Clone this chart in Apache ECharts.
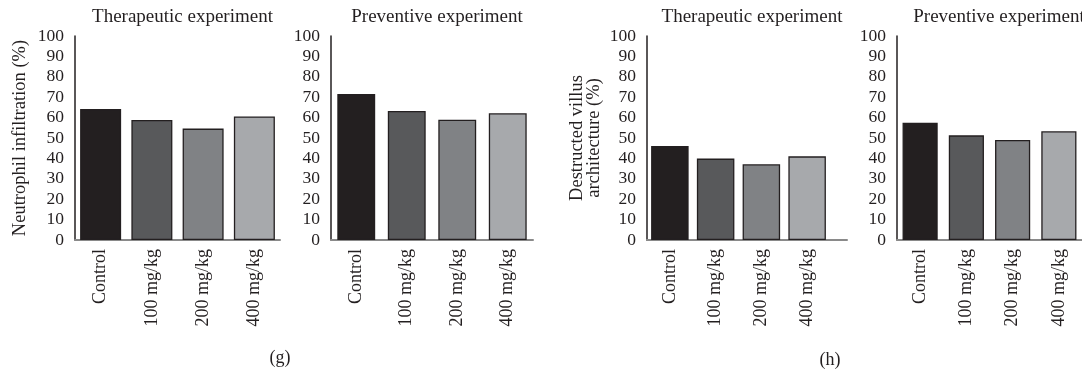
<!DOCTYPE html>
<html>
<head>
<meta charset="utf-8">
<script src="https://cdn.jsdelivr.net/npm/echarts@6/dist/echarts.min.js"></script>
<style>
  html, body { margin: 0; padding: 0; background: #fff; }
  #chart { width: 1082px; height: 372px; }
</style>
</head>
<body>
<div id="chart"></div>
<script>
// Groups on the category axis
const categories = ['Control', '100 mg/kg', '200 mg/kg', '400 mg/kg'];
const yTicks = [0, 10, 20, 30, 40, 50, 60, 70, 80, 90, 100];

// Neutrophil infiltration (%)
const therapeuticNeutrophil = [64.2, 58.8, 54.6, 60.6];
const preventiveNeutrophil = [71.6, 63.2, 59.0, 62.1];

// Destructed villus architecture (%)
const therapeuticVillus = [46.1, 39.9, 37.1, 41.0];
const preventiveVillus = [57.5, 51.3, 49.0, 53.3];

const panelTitles = ['Therapeutic experiment', 'Preventive experiment', 'Therapeutic experiment', 'Preventive experiment'];
const yNames = ['Neutrophil infiltration (%)', '', 'Destructed villus\narchitecture (%)', ''];
const panelLetters = ['(g)', '(h)'];

const barColors = ['#231f20', '#58595b', '#808285', '#a7a9ac'];
const ink = '#231f20';
const font = 'Liberation Serif';

// plot areas: left, width, gap between bars
const panels = [
  { left: 75,  width: 205, gap: '20%', data: therapeuticNeutrophil },
  { left: 331, width: 202, gap: '25%', data: preventiveNeutrophil },
  { left: 647, width: 183, gap: '18%', data: therapeuticVillus, lineWidth: 200 },
  { left: 897, width: 194, gap: '24%', data: preventiveVillus }
];
const plotTop = 36, plotHeight = 204;

const grids = [], xAxes = [], yAxes = [], series = [], titles = [];

panels.forEach((p, i) => {
  grids.push({ left: p.left, top: plotTop, width: p.width, height: plotHeight });
  xAxes.push({
    type: 'category', gridIndex: i, data: categories,
    axisLine: { lineStyle: { color: '#8a8a8a', width: 2 } },
    axisTick: { show: false },
    axisLabel: { rotate: 90, margin: 9, color: ink, fontFamily: font, fontSize: 18 }
  });
  yAxes.push({
    type: 'value', gridIndex: i, min: 0, max: 100, interval: 10,
    name: yNames[i], nameLocation: 'middle', nameGap: i === 2 ? 44 : 46,
    nameTextStyle: { color: ink, fontFamily: font, fontSize: 18.5, lineHeight: 17 },
    axisLine: { show: true, lineStyle: { color: ink, width: 1.5 } },
    axisTick: { show: false },
    splitLine: { show: false },
    axisLabel: {
      margin: 11, color: ink, fontFamily: font, fontSize: 17.5,
      formatter: v => (yTicks.includes(v) ? String(v) : '')
    }
  });
  series.push({
    type: 'bar', xAxisIndex: i, yAxisIndex: i, data: p.data,
    barCategoryGap: p.gap,
    itemStyle: {
      color: params => barColors[params.dataIndex],
      borderColor: ink, borderWidth: 1.3
    },
    silent: true
  });
  const lineW = p.lineWidth || p.width;
  titles.push({
    text: panelTitles[i], left: p.left + lineW / 2, top: 3, textAlign: 'center',
    textStyle: { color: ink, fontFamily: font, fontSize: 19, fontWeight: 'normal' }
  });
});

// the third panel's baseline runs on past its last bar
panels.forEach((p) => {
  if (!p.lineWidth) return;
  const gi = grids.length;
  grids.push({ left: p.left, top: plotTop, width: p.lineWidth, height: plotHeight });
  xAxes.push({
    type: 'category', gridIndex: gi, data: categories,
    axisLine: { lineStyle: { color: '#8a8a8a', width: 2 } },
    axisTick: { show: false }, axisLabel: { show: false }
  });
  yAxes.push({ type: 'value', gridIndex: gi, min: 0, max: 100, show: false });
});

// panel letters under each pair
titles.push({ text: panelLetters[0], left: 275, top: 344, textAlign: 'center',
  textStyle: { color: ink, fontFamily: font, fontSize: 18, fontWeight: 'normal' } });
titles.push({ text: panelLetters[1], left: 825, top: 346, textAlign: 'center',
  textStyle: { color: ink, fontFamily: font, fontSize: 18, fontWeight: 'normal' } });

const chart = echarts.init(document.getElementById('chart'), null, { renderer: 'canvas' });
chart.setOption({
  animation: false,
  backgroundColor: '#ffffff',
  title: titles,
  grid: grids,
  xAxis: xAxes,
  yAxis: yAxes,
  series: series
});
</script>
</body>
</html>
